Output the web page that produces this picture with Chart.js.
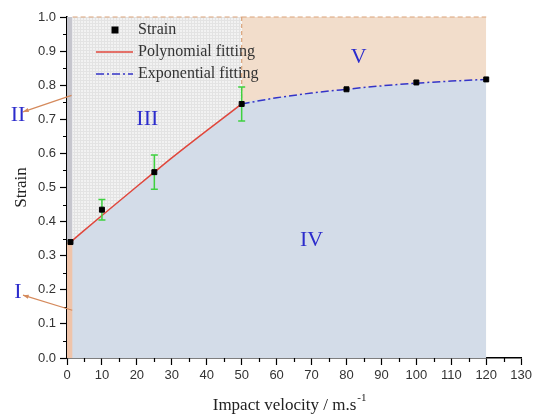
<!DOCTYPE html>
<html>
<head>
<meta charset="utf-8">
<script src="https://cdn.jsdelivr.net/npm/chart.js@4.4.0/dist/chart.umd.min.js"></script>
<style>
html, body { margin: 0; padding: 0; background: #fff; }
</style>
</head>
<body>
<canvas id="strainChart" width="535" height="416"></canvas>
<script>
// measured strain vs impact velocity
const velocity = [1, 10, 25, 50, 80, 100, 120];
const strain = [0.34, 0.435, 0.545, 0.745, 0.788, 0.808, 0.817];
const strainErr = [0, 0.03, 0.05, 0.05, 0, 0, 0];

// fitted curves
const polyX = [1, 10, 20, 25, 30, 40, 50];
const polyY = [0.34, 0.418, 0.503, 0.545, 0.587, 0.667, 0.745];
const expX = [50, 60, 70, 80, 90, 100, 110, 120];
const expY = [0.745, 0.763, 0.777, 0.788, 0.798, 0.806, 0.812, 0.817];

// zone limits
const zoneEdges = [0, 1.6, 50, 120];
const zoneTop = 1.0;
const zoneSplit = 0.34;
const zoneNames = ['I', 'II', 'III', 'IV', 'V'];
const zoneLabelX = [null, null, 23, 70, 83.5];
const zoneLabelY = [0.193, 0.713, 0.70, 0.345, 0.883];
const arrowFrom = [[1.5, 0.14], [1.3, 0.77]];

const xMinor = [5, 15, 25, 35, 45, 55, 65, 75, 85, 95, 105, 115, 125];
const yMinor = [0.05, 0.15, 0.25, 0.35, 0.45, 0.55, 0.65, 0.75, 0.85, 0.95];

const pts = (xs, ys) => xs.map((x, i) => ({ x: x, y: ys[i] }));

function gridPattern() {
    const c = document.createElement('canvas');
    c.width = 3; c.height = 3;
    const g = c.getContext('2d');
    g.fillStyle = '#f2f2f2';
    g.fillRect(0, 0, 3, 3);
    g.fillStyle = '#e3e3e3';
    g.fillRect(2, 0, 1, 3);
    g.fillRect(0, 2, 3, 1);
    return g.createPattern(c, 'repeat');
}

const BLUE = '#2c2ccc';
const ZONE_LINE = '#dba47b';

const extras = {
    id: 'extras',
    beforeDatasetDraw(chart, args) {
        if (args.index !== 0) return;
        // error bars, under the markers
        const ctx = chart.ctx, xs = chart.scales.x, ys = chart.scales.y;
        ctx.save();
        ctx.strokeStyle = '#3fd13f';
        ctx.lineWidth = 1.5;
        velocity.forEach((v, i) => {
            if (!strainErr[i]) return;
            const px = xs.getPixelForValue(v);
            const top = ys.getPixelForValue(strain[i] + strainErr[i]);
            const bot = ys.getPixelForValue(strain[i] - strainErr[i]);
            ctx.beginPath();
            ctx.moveTo(px, top); ctx.lineTo(px, bot);
            ctx.moveTo(px - 3.5, top); ctx.lineTo(px + 3.5, top);
            ctx.moveTo(px - 3.5, bot); ctx.lineTo(px + 3.5, bot);
            ctx.stroke();
        });
        ctx.restore();
    },
    afterDraw(chart) {
        const ctx = chart.ctx, xs = chart.scales.x, ys = chart.scales.y;
        const area = chart.chartArea;
        ctx.save();

        // minor ticks
        ctx.strokeStyle = '#000';
        ctx.lineWidth = 1.2;
        ctx.beginPath();
        xMinor.forEach(v => {
            const px = Math.round(xs.getPixelForValue(v)) + 0.5;
            ctx.moveTo(px, area.bottom); ctx.lineTo(px, area.bottom + 4);
        });
        yMinor.forEach(v => {
            const py = Math.round(ys.getPixelForValue(v)) + 0.5;
            ctx.moveTo(area.left, py); ctx.lineTo(area.left - 4, py);
        });
        ctx.stroke();

        // arrows from the thin strips to labels I and II
        ctx.strokeStyle = '#d58a5c';
        ctx.fillStyle = '#d58a5c';
        ctx.lineWidth = 1.2;
        arrowFrom.forEach((a, i) => {
            const x0 = xs.getPixelForValue(a[0]), y0 = ys.getPixelForValue(a[1]);
            const x1 = area.left - 44, y1 = ys.getPixelForValue(zoneLabelY[i]) + (i === 0 ? 3 : -3);
            ctx.beginPath();
            ctx.moveTo(x0, y0); ctx.lineTo(x1, y1);
            ctx.stroke();
            const ang = Math.atan2(y1 - y0, x1 - x0);
            ctx.beginPath();
            ctx.moveTo(x1, y1);
            ctx.lineTo(x1 - 6 * Math.cos(ang - 0.35), y1 - 6 * Math.sin(ang - 0.35));
            ctx.lineTo(x1 - 6 * Math.cos(ang + 0.35), y1 - 6 * Math.sin(ang + 0.35));
            ctx.closePath();
            ctx.fill();
        });

        // zone labels
        ctx.fillStyle = BLUE;
        ctx.font = '22px "Liberation Serif"';
        ctx.textAlign = 'center';
        ctx.textBaseline = 'middle';
        zoneNames.forEach((n, i) => {
            const px = zoneLabelX[i] === null ? area.left - 49 : xs.getPixelForValue(zoneLabelX[i]);
            ctx.fillText(n, px, ys.getPixelForValue(zoneLabelY[i]));
        });

        // legend
        const ds = chart.data.datasets;
        const lx = area.left + 29, tx = area.left + 71;
        const rows = [area.top + 13, area.top + 35, area.top + 57];
        ctx.fillStyle = '#000';
        ctx.fillRect(area.left + 44.5, rows[0] - 3.5, 7, 7);
        [1, 2].forEach((d, k) => {
            ctx.strokeStyle = ds[d].borderColor;
            ctx.lineWidth = 1.5;
            ctx.setLineDash(ds[d].borderDash || []);
            ctx.beginPath();
            ctx.moveTo(lx, rows[k + 1]); ctx.lineTo(lx + 37, rows[k + 1]);
            ctx.stroke();
        });
        ctx.setLineDash([]);
        ctx.fillStyle = '#333';
        ctx.font = '16px "Liberation Serif"';
        ctx.textAlign = 'left';
        ctx.fillText(ds[0].label, tx, rows[0]);
        ctx.fillText(ds[1].label, tx, rows[1]);
        ctx.fillText(ds[2].label, tx, rows[2]);

        // x axis title with superscript unit
        const main = 'Impact velocity / m.s', sup = '-1';
        ctx.font = '17px "Liberation Serif"';
        const w1 = ctx.measureText(main).width;
        ctx.font = '11px "Liberation Serif"';
        const w2 = ctx.measureText(sup).width;
        const sx = (area.left + area.right) / 2 - 5 - (w1 + w2) / 2;
        ctx.fillStyle = '#222';
        ctx.textBaseline = 'alphabetic';
        ctx.font = '17px "Liberation Serif"';
        ctx.fillText(main, sx, 410);
        ctx.font = '11px "Liberation Serif"';
        ctx.fillText(sup, sx + w1 + 1, 401);

        ctx.restore();
    }
};

const tickFont = { family: '"Liberation Sans", Arial, sans-serif', size: 13 };

new Chart(document.getElementById('strainChart').getContext('2d'), {
    type: 'line',
    data: {
        datasets: [
            {
                label: 'Strain',
                data: pts(velocity, strain),
                showLine: false,
                pointStyle: 'rect',
                pointRadius: 3.5,
                backgroundColor: '#000',
                borderColor: '#000',
                order: 0
            },
            {
                label: 'Polynomial fitting',
                data: pts(polyX, polyY),
                borderColor: '#e0473c',
                borderWidth: 1.5,
                pointRadius: 0,
                cubicInterpolationMode: 'monotone',
                fill: false,
                order: 1
            },
            {
                label: 'Exponential fitting',
                data: pts(expX, expY),
                borderColor: '#3434c8',
                borderWidth: 1.5,
                borderDash: [8, 3, 2, 3],
                pointRadius: 0,
                cubicInterpolationMode: 'monotone',
                fill: false,
                order: 1
            },
            {
                // boundary between zones III and V
                data: pts([zoneEdges[2], zoneEdges[2]], [zoneTop, polyY[polyY.length - 1]]),
                borderColor: ZONE_LINE,
                borderWidth: 1.2,
                borderDash: [4, 3],
                pointRadius: 0,
                fill: false,
                order: 2
            },
            {
                // zone I strip
                data: pts([zoneEdges[0], zoneEdges[1]], [zoneSplit, zoneSplit]),
                borderWidth: 0,
                pointRadius: 0,
                backgroundColor: '#efc4aa',
                fill: 'origin',
                order: 3
            },
            {
                // zone II strip
                data: pts([zoneEdges[0], zoneEdges[1]], [zoneTop, zoneTop]),
                borderWidth: 0,
                pointRadius: 0,
                backgroundColor: '#c6c6ce',
                fill: { value: zoneSplit },
                order: 3
            },
            {
                // zone IV, under both fitted curves
                data: pts(polyX.concat(expX.slice(1)), polyY.concat(expY.slice(1))),
                borderWidth: 0,
                pointRadius: 0,
                cubicInterpolationMode: 'monotone',
                backgroundColor: '#d3dce8',
                fill: 'origin',
                order: 4
            },
            {
                // zone III
                data: pts([zoneEdges[1], zoneEdges[2]], [zoneTop, zoneTop]),
                borderColor: ZONE_LINE,
                borderWidth: 1.2,
                borderDash: [5, 3],
                pointRadius: 0,
                backgroundColor: gridPattern(),
                fill: 'origin',
                clip: 6,
                order: 5
            },
            {
                // zone V
                data: pts([zoneEdges[2], zoneEdges[3]], [zoneTop, zoneTop]),
                borderColor: ZONE_LINE,
                borderWidth: 1.2,
                borderDash: [5, 3],
                pointRadius: 0,
                backgroundColor: '#f2ddcb',
                fill: 'origin',
                clip: 6,
                order: 5
            }
        ]
    },
    options: {
        responsive: false,
        animation: false,
        devicePixelRatio: 1,
        layout: { padding: { top: 17, right: 12, left: 0, bottom: 0 } },
        plugins: {
            legend: { display: false },
            tooltip: { enabled: false }
        },
        scales: {
            x: {
                type: 'linear',
                min: 0,
                max: 130,
                ticks: { stepSize: 10, font: tickFont, color: '#333', padding: 3, maxRotation: 0 },
                grid: { drawOnChartArea: false, drawTicks: true, tickLength: 7, tickColor: '#000', tickWidth: 1.2 },
                border: { display: true, color: '#000', width: 1.5 },
                afterFit: s => { s.height = 58; }
            },
            y: {
                min: 0,
                max: 1,
                ticks: { stepSize: 0.1, font: tickFont, color: '#333', padding: 4, callback: v => v.toFixed(1) },
                grid: { drawOnChartArea: false, drawTicks: true, tickLength: 7, tickColor: '#000', tickWidth: 1.2 },
                border: { display: true, color: '#000', width: 1.5 },
                title: {
                    display: true,
                    text: 'Strain',
                    color: '#222',
                    font: { family: '"Liberation Serif"', size: 17 },
                    padding: { top: 11, bottom: 0 }
                },
                afterFit: s => { s.width = 67; }
            }
        }
    },
    plugins: [extras]
});
</script>
</body>
</html>
